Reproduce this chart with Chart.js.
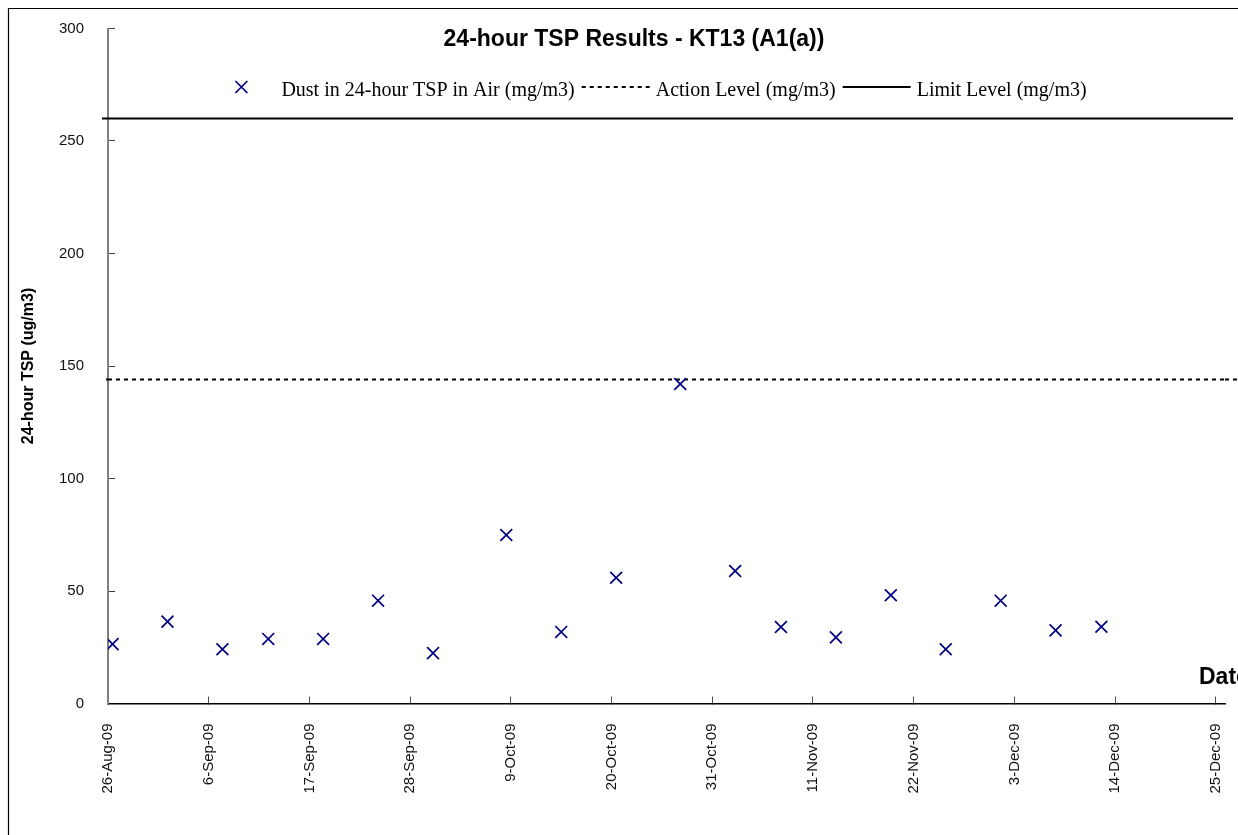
<!DOCTYPE html>
<html>
<head>
<meta charset="utf-8">
<script src="https://cdn.jsdelivr.net/npm/chart.js@4.4.0/dist/chart.umd.min.js"></script>
<style>
html,body{margin:0;padding:0;overflow:hidden;background:#fff;width:1238px;height:835px}
#wrap{position:relative;width:1282px;height:835px}
</style>
</head>
<body>
<div id="wrap"><canvas id="c" width="1282" height="835"></canvas></div>
<script>
// ---------- data ----------
const CHART_TITLE = '24-hour TSP Results - KT13 (A1(a))';
const Y_TITLE = '24-hour TSP (ug/m3)';
const X_TITLE = 'Date';
const SERIES_NAMES = ['Dust in 24-hour TSP in Air (mg/m3)', 'Action Level (mg/m3)', 'Limit Level (mg/m3)'];
const SAMPLE_DATES = ['2009-08-26','2009-09-01','2009-09-07','2009-09-12','2009-09-18','2009-09-24','2009-09-30',
  '2009-10-08','2009-10-14','2009-10-20','2009-10-27','2009-11-02','2009-11-07','2009-11-13','2009-11-19',
  '2009-11-25','2009-12-01','2009-12-07','2009-12-12'];
const TSP_VALUES = [26.4, 36.4, 24.1, 28.7, 28.7, 45.7, 22.4, 74.9, 31.8, 55.9, 142.0, 58.9, 34.0, 29.4, 48.1, 24.1, 45.7, 32.5, 34.1];
const ACTION_LEVEL = 144;
const LIMIT_LEVEL = 260;
const X_AXIS_START = '2009-08-26';
const X_AXIS_END = '2009-12-26';
const X_TICK_STEP_DAYS = 11;
const Y_TICKS = [0, 50, 100, 150, 200, 250, 300];
const MONTHS = ['Jan','Feb','Mar','Apr','May','Jun','Jul','Aug','Sep','Oct','Nov','Dec'];

// ---------- helpers ----------
const DAY = 86400000;
const T0 = Date.parse(X_AXIS_START + 'T00:00:00Z');
// 24-hour samples are placed at the middle of their sampling day
const dayOf = (d) => (Date.parse(d + 'T12:00:00Z') - T0) / DAY;
const X_MAX = (Date.parse(X_AXIS_END + 'T00:00:00Z') - T0) / DAY;
const fmtDate = (v) => {
  const d = new Date(T0 + v * DAY);
  return d.getUTCDate() + '-' + MONTHS[d.getUTCMonth()] + '-' + String(d.getUTCFullYear()).slice(2);
};

const SANS = '"Liberation Sans", Arial, sans-serif';
const SERIF = '"Liberation Serif", "Times New Roman", serif';

const decor = {
  id: 'decor',
  beforeDraw(chart) {
    const ctx = chart.ctx;
    ctx.save();
    ctx.fillStyle = '#fff';
    ctx.fillRect(0, 0, chart.width, chart.height);
    ctx.strokeStyle = '#000';
    ctx.lineWidth = 1.2;
    ctx.beginPath();
    ctx.moveTo(8.5, chart.height);
    ctx.lineTo(8.5, 8.5);
    ctx.lineTo(chart.width, 8.5);
    ctx.stroke();
    ctx.restore();
  },
  afterDatasetsDraw(chart) {
    // level lines run slightly past the plot area, as in the original
    const ctx = chart.ctx, ca = chart.chartArea, ys = chart.scales.y;
    chart.data.datasets.forEach((ds) => {
      if (!ds.extend) return;
      const y = ys.getPixelForValue(ds.data[0].y);
      ctx.save();
      ctx.strokeStyle = ds.borderColor;
      ctx.lineWidth = ds.borderWidth;
      ctx.setLineDash(ds.borderDash || []);
      ctx.beginPath();
      ctx.moveTo(ca.left - ds.extend[0], y);
      ctx.lineTo(ca.left, y);
      ctx.moveTo(ca.right, y);
      ctx.lineTo(ca.right + ds.extend[1], y);
      ctx.stroke();
      ctx.restore();
    });
  },
  afterDraw(chart) {
    const ctx = chart.ctx, ca = chart.chartArea;
    ctx.save();
    // title
    ctx.fillStyle = '#000';
    ctx.font = 'bold 23px ' + SANS;
    ctx.textAlign = 'center';
    ctx.textBaseline = 'alphabetic';
    ctx.fillText(CHART_TITLE, 634, 46);
    // legend
    ctx.font = '20px ' + SERIF;
    ctx.textAlign = 'left';
    const BOX = 68, GAP = 6, PAD = 7, CX = 647, LY = 87;
    const dss = chart.data.datasets;
    const widths = dss.map(ds => BOX + GAP + ctx.measureText(ds.label).width);
    const total = widths.reduce((a, b) => a + b, 0) + PAD * (dss.length - 1);
    let x = CX - total / 2;
    dss.forEach((ds, i) => {
      ctx.save();
      ctx.strokeStyle = ds.borderColor;
      ctx.lineWidth = ds.borderWidth;
      ctx.beginPath();
      if (ds.showLine === false) {
        const cx = x + BOX / 2, h = 6;
        ctx.moveTo(cx - h, LY - h); ctx.lineTo(cx + h, LY + h);
        ctx.moveTo(cx - h, LY + h); ctx.lineTo(cx + h, LY - h);
      } else {
        ctx.setLineDash(ds.borderDash || []);
        ctx.moveTo(x, LY); ctx.lineTo(x + BOX, LY);
      }
      ctx.stroke();
      ctx.restore();
      ctx.fillStyle = '#000';
      ctx.fillText(ds.label, x + BOX + GAP, 96);
      x += widths[i] + PAD;
    });
    // x-axis title inside plot, lower right
    ctx.font = 'bold 23px ' + SANS;
    ctx.fillText(X_TITLE, ca.right - 26, ca.bottom - 19.5);
    ctx.restore();
  }
};

new Chart(document.getElementById('c'), {
  type: 'scatter',
  data: {
    datasets: [
      {
        label: SERIES_NAMES[0],
        data: SAMPLE_DATES.map((d, i) => ({x: dayOf(d), y: TSP_VALUES[i]})),
        showLine: false,
        pointStyle: 'crossRot',
        pointRadius: 8.4,
        pointHoverRadius: 8.4,
        borderColor: '#000080',
        backgroundColor: '#000080',
        borderWidth: 1.7
      },
      {
        label: SERIES_NAMES[1],
        data: [{x: 0, y: ACTION_LEVEL}, {x: X_MAX, y: ACTION_LEVEL}],
        showLine: true,
        pointRadius: 0,
        borderColor: '#000',
        borderWidth: 2,
        borderDash: [4, 4],
        extend: [2, 16]
      },
      {
        label: SERIES_NAMES[2],
        data: [{x: 0, y: LIMIT_LEVEL}, {x: X_MAX, y: LIMIT_LEVEL}],
        showLine: true,
        pointRadius: 0,
        borderColor: '#000',
        borderWidth: 2,
        extend: [6, 8]
      }
    ]
  },
  options: {
    responsive: false,
    animation: false,
    devicePixelRatio: 1,
    layout: {padding: {left: 8, top: 28.5, right: 0, bottom: 0}},
    plugins: {legend: {display: false}, title: {display: false}, tooltip: {enabled: false}},
    scales: {
      x: {
        type: 'linear',
        min: 0,
        max: X_MAX,
        ticks: {
          stepSize: X_TICK_STEP_DAYS,
          includeBounds: false,
          autoSkip: false,
          maxRotation: 90,
          minRotation: 90,
          padding: 27,
          color: '#111',
          font: {family: SANS, size: 15},
          callback: (v) => fmtDate(v)
        },
        grid: {drawOnChartArea: false, drawTicks: true, tickLength: -7, color: '#505050', lineWidth: 1},
        border: {display: true, color: '#000', width: 1.5},
        afterFit: (s) => { s.height = 131.5; s.paddingRight = 57; }
      },
      y: {
        type: 'linear',
        min: Y_TICKS[0],
        max: Y_TICKS[Y_TICKS.length - 1],
        afterBuildTicks: (s) => { s.ticks = Y_TICKS.map(v => ({value: v})); },
        ticks: {
          padding: 31,
          color: '#111',
          font: {family: SANS, size: 15}
        },
        grid: {drawOnChartArea: false, drawTicks: true, tickLength: -7, color: '#404040', lineWidth: 1},
        border: {display: true, color: '#808080', width: 2},
        title: {
          display: true,
          text: Y_TITLE,
          color: '#000',
          font: {family: SANS, size: 16, weight: 'bold'},
          padding: {top: 10.5, bottom: 0}
        },
        afterFit: (s) => { s.width = 100; s.paddingTop = 0; s.paddingBottom = 0; }
      }
    }
  },
  plugins: [decor]
});
</script>
</body>
</html>
